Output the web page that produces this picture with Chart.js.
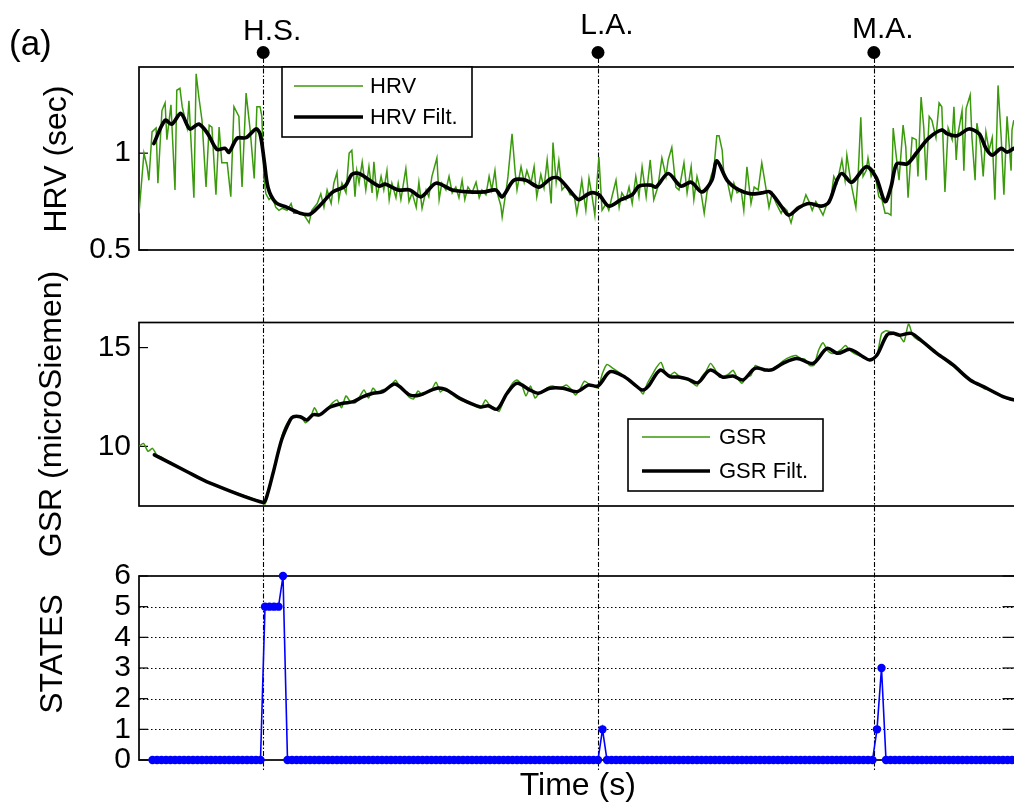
<!DOCTYPE html>
<html><head><meta charset="utf-8">
<script src="https://cdn.jsdelivr.net/npm/chart.js@4.4.1/dist/chart.umd.min.js"></script>
<style>
html,body{margin:0;padding:0;width:1014px;height:803px;overflow:hidden;background:#fff;}
canvas{position:absolute;left:0;}
</style></head><body>
<canvas id="c1" width="1030" height="286" style="top:0px"></canvas>
<canvas id="c3" width="1030" height="262" style="top:541px"></canvas>
<canvas id="c2" width="1030" height="310" style="top:256px"></canvas>
<script>
// ---------------- DATA ----------------
const markerTimes = [27.6, 102, 163.3];
const markerLabels = ['H.S.', 'L.A.', 'M.A.'];

const hrvTicks = [0.5, 1];
const gsrTicks = [10, 15];
const stateTicks = [0, 1, 2, 3, 4, 5, 6];
const stateGrid = [1, 2, 3, 4, 5];

// HRV raw (time s, value s)
const hrvTime = [
 0,1.1,1.8,2.2,2.9,3.8,4.2,5.1,5.8,6.2,7.1,8,8.4,9.1,9.6,10.7,11.1,12.2,12.7,13.3,14,14.9,15.6,16.2,17.1,17.8,18.4,19.6,20.4,21.1,22.2,22.9,23.8,24.7,25.6,26.2,26.9,27.3,27.8,28.2,28.9,29.6,30.4,31.1,31.8,32.9,33.8,34.4,35.6,36.7,37.8,38.4,39.6,40.4,41.1,41.8,42.7,43.3,44,44.4,45.1,46,46.7,47.3,48,48.4,
 48.9,49.6,50.4,51.1,51.8,52.2,52.9,53.8,54.4,55.1,55.6,56.2,57.1,57.6,58.2,59.3,60,60.7,61.6,62.2,62.9,63.8,64.4,65.1,66.2,66.7,67.3,68.2,68.9,69.6,70.4,71.1,71.8,72.4,73.1,74,74.9,75.6,76.2,77.1,77.8,78.4,79.1,79.6,80.4,80.7,81.6,82,82.9,83.6,84,84.9,85.6,86.2,87.1,87.8,88.4,89.3,90,90.7,91.6,92,92.7,93.3,94,94.9,95.8,96.7,97.3,
 97.8,98.4,99.3,100,100.7,101.3,101.8,102.2,102.9,103.8,104.4,105.1,106,106.7,107.3,108.2,108.9,109.6,110.4,111.1,111.8,112.7,113.6,114.4,115.3,116.2,117.1,117.6,118.4,119.3,120,121.1,121.8,122.7,123.3,124,124.9,125.6,126.2,127.1,127.8,128.4,128.9,129.6,130,130.7,131.6,132.2,132.9,133.8,134.4,135.1,136,136.7,137.6,138.4,139.1,140,140.7,141.6,142.7,143.3,144,144.9,145.6,146.2,
 146.7,147.3,148.2,148.9,149.6,150.4,151.1,152,152.9,153.8,154.4,155.1,156.2,156.9,157.3,158,158.4,159.3,159.8,160.4,160.9,161.6,162,162.7,163.3,163.8,164.4,165.1,165.8,166.4,167.1,167.6,168.2,168.9,169.8,170.4,170.9,171.8,172.7,173.1,173.8,174.4,174.9,175.6,176.2,177.1,177.8,178.4,179.1,179.8,180.7,181.1,181.6,182,182.9,183.3,183.8,184.7,185.1,185.8,186.2,187.1,187.6,188.2,188.9,189.6,190.2,190.9,191.6,192.2,192.9,193.8,194,194.4
];
const hrvRaw = [
 0.69,1.0,0.93,0.86,1.11,1.13,0.845,1.22,1.26,1.07,1.25,0.81,1.325,1.335,1.24,1.13,1.27,0.77,1.41,1.29,1.17,0.825,1.145,1.135,0.785,1.135,0.95,0.95,0.775,1.24,1.19,0.825,1.31,1.12,0.87,1.24,1.24,1.19,0.86,0.79,0.76,0.775,0.72,0.705,0.715,0.705,0.74,0.69,0.69,0.68,0.64,0.705,0.74,0.79,0.72,0.81,0.74,0.845,0.90,0.76,0.845,0.795,1.0,1.015,0.775,0.91,
 0.845,0.955,0.81,0.93,0.795,0.955,0.775,0.88,0.81,0.91,0.76,0.845,0.77,0.845,0.76,0.92,0.75,0.795,0.72,0.85,0.715,0.81,0.775,0.88,0.975,0.76,0.845,0.81,0.88,0.795,0.825,0.77,0.86,0.76,0.825,0.795,0.85,0.77,0.81,0.785,0.88,0.81,0.91,0.795,0.73,0.67,0.81,0.88,1.10,0.90,0.81,0.93,0.85,0.91,0.845,0.93,0.775,0.89,0.82,0.965,0.74,1.055,0.85,0.96,0.81,0.835,0.785,0.785,0.69,
 0.76,0.86,0.705,0.87,0.775,0.68,0.86,0.98,0.705,0.74,0.705,0.775,0.86,0.72,0.795,0.76,0.825,0.74,0.88,0.775,0.93,0.775,0.965,0.76,0.825,0.975,0.88,0.965,1.03,0.825,0.81,0.95,0.795,0.93,0.76,0.88,0.795,0.69,0.795,0.88,0.93,1.09,1.09,1.015,0.88,0.86,0.76,0.845,0.795,0.81,0.705,0.93,0.74,0.825,0.81,0.95,0.85,0.72,0.795,0.74,0.69,0.72,0.705,0.64,0.705,0.72,
 0.717,0.72,0.785,0.75,0.705,0.75,0.72,0.68,0.74,0.775,0.88,0.845,0.965,0.86,0.99,0.88,0.825,0.72,0.88,1.185,0.88,0.91,0.975,0.88,0.91,0.86,0.775,0.76,0.69,0.69,0.68,1.13,1.0,0.86,1.145,1.03,0.77,1.08,1.07,0.88,1.29,1.13,0.86,1.19,1.17,1.08,1.26,1.24,0.80,1.13,1.07,1.24,0.965,1.10,1.22,0.91,1.23,1.30,1.08,0.86,1.155,1.03,0.88,1.11,1.015,1.08,0.76,1.35,1.08,0.785,1.19,0.91,1.12,1.17
];

// HRV filtered
const hrvFiltTime = [3.3,5.8,7.3,9.3,11.3,13.3,15.3,17.3,19.1,20,21.8,23.8,26,26.9,27.8,28.7,30.4,32.9,35.8,38,40.2,43.1,45.8,47.3,48.9,53.3,54.7,57.6,60.2,62.7,66,69.6,73.3,76.7,79.3,80.7,83.3,86,88.9,91.6,93.3,97.1,97.8,100.4,102.2,104.4,107.1,109.6,111.1,113.8,114.9,117.6,120.4,122.7,125.1,127.3,128.4,130.7,133.3,136,138.4,140.2,142.9,144.4,146.7,148.9,151.6,153.3,155.1,156.2,158.4,161.6,163.8,165.8,167.1,168.4,170.7,172.9,175.6,178.4,179.6,181.8,184.4,186.7,188.2,189.6,191.6,192.9,194.4];
const hrvFilt = [1.05,1.17,1.15,1.205,1.125,1.15,1.10,1.02,1.025,1.005,1.077,1.08,1.125,1.10,0.965,0.82,0.745,0.72,0.69,0.685,0.73,0.80,0.83,0.89,0.895,0.83,0.84,0.81,0.81,0.775,0.845,0.81,0.80,0.80,0.81,0.775,0.86,0.86,0.825,0.87,0.87,0.77,0.76,0.795,0.785,0.727,0.76,0.785,0.83,0.835,0.825,0.895,0.83,0.85,0.80,0.86,0.96,0.86,0.81,0.79,0.795,0.80,0.72,0.68,0.72,0.74,0.727,0.747,0.86,0.895,0.85,0.93,0.875,0.75,0.825,0.945,0.945,1.005,1.08,1.12,1.10,1.09,1.125,1.10,1.025,0.99,1.025,1.005,1.025];

// GSR raw, one sample per second from t = 0
const gsrRaw = [
 10.0,10.15,9.75,9.9,9.55,9.45,9.3,9.18,9.05,8.93,
 8.8,8.68,8.57,8.45,8.33,8.22,8.12,8.03,7.94,7.86,
 7.78,7.7,7.62,7.54,7.46,7.38,7.3,7.2,7.08,7.9,
 8.9,9.8,10.7,11.2,11.45,11.55,11.5,11.2,11.4,11.95,
 11.55,11.75,11.95,12.2,12.35,11.95,12.55,12.25,12.2,12.5,
 12.85,12.45,12.95,12.7,12.85,12.9,13.1,13.35,13.0,12.8,
 12.5,12.4,12.8,12.6,12.75,12.85,13.25,12.75,12.95,12.8,
 12.55,12.4,12.3,12.2,12.15,12.0,11.95,12.35,12.05,11.95,
 11.76,12.3,12.8,13.2,13.36,13.15,12.55,13.05,12.45,12.7,
 12.85,13.0,13.05,12.95,13.0,13.1,12.9,12.6,12.9,13.3,
 13.15,13.05,12.95,13.7,14.15,14.0,13.85,13.7,13.5,13.3,
 13.1,12.95,12.65,13.2,13.6,14.0,14.25,13.7,13.6,13.75,
 13.55,13.45,13.35,13.2,13.05,13.5,13.8,14.2,13.9,13.5,
 13.55,13.65,13.85,13.45,13.2,13.5,13.6,14.1,13.95,13.8,
 13.85,13.95,14.1,14.3,14.45,14.55,14.6,14.45,14.4,14.1,
 14.1,14.85,15.25,14.85,14.7,14.75,14.9,15.1,14.85,14.7,
 14.6,14.5,14.4,14.45,14.6,15.7,15.85,15.8,15.75,15.6,
 15.3,16.2,15.6,15.4,15.3,15.1,14.9,14.75,14.55,14.4,
 14.2,14.05,13.85,13.65,13.45,13.3,13.15,13.05,12.9,12.85,
 12.7,12.6,12.5,12.4,12.35
];

// GSR filtered
const gsrFiltTime = [3.4,10.6,15,27.6,28.4,29.8,31.7,33.6,34.3,35.8,37.3,38.7,40.2,42.4,45.3,47.6,49.8,52,54.2,56.9,60.2,62.4,66.2,68.4,71.3,75.8,77.6,79.6,81.8,84,86.9,88.7,91.3,94.2,97.3,99.8,102,104.7,107.6,109.8,111.8,113.1,115.8,118,120.2,122,124.2,126.9,129.8,132,134.2,136.9,139.6,140.9,143.1,146.2,149.8,152.9,155.3,158,160.9,162.4,164,166.2,167.6,169.1,171.6,174.2,177.3,180.9,184.7,188.4,192,194.4];
const gsrFilt = [9.57,8.73,8.22,7.16,7.47,8.65,10.33,11.34,11.5,11.5,11.34,11.6,11.6,11.98,12.18,12.26,12.52,12.69,12.77,13.16,12.6,12.6,12.94,12.85,12.43,12.0,12.05,11.88,12.69,13.19,12.85,12.69,12.94,12.94,12.77,13.1,13.06,13.78,13.56,13.19,12.85,13.02,13.86,13.53,13.5,13.4,13.22,13.86,13.5,13.56,13.36,13.95,13.86,13.9,14.2,14.45,14.2,14.96,14.71,14.91,14.54,14.37,14.62,15.63,15.72,15.63,15.72,15.29,14.71,14.12,13.36,12.94,12.52,12.35];

// STATES, one sample per second starting at t = 3
const stateStart = 3;
const states = [
 0,0,0,0,0,0,0,0,0,0,0,0,0,0,0,0,0,0,0,0,
 0,0,0,0,0,5,5,5,5,6,0,0,0,0,0,0,0,0,0,0,
 0,0,0,0,0,0,0,0,0,0,0,0,0,0,0,0,0,0,0,0,
 0,0,0,0,0,0,0,0,0,0,0,0,0,0,0,0,0,0,0,0,
 0,0,0,0,0,0,0,0,0,0,0,0,0,0,0,0,0,0,0,0,
 1,0,0,0,0,0,0,0,0,0,0,0,0,0,0,0,0,0,0,0,
 0,0,0,0,0,0,0,0,0,0,0,0,0,0,0,0,0,0,0,0,
 0,0,0,0,0,0,0,0,0,0,0,0,0,0,0,0,0,0,0,0,
 0,1,3,0,0,0,0,0,0,0,0,0,0,0,0,0,0,0,0,0,
 0,0,0,0,0,0,0,0,0,0,0,0
];

// ---------------- CHARTS ----------------
const FONT = '"Liberation Sans", Arial, Helvetica, sans-serif';
const GREEN = '#3a9a0c';
const BLUE = '#0000ff';
Chart.defaults.font.family = FONT;
Chart.defaults.color = '#000';

const pts = (xs, ys) => ys.map((v, i) => ({x: xs[i], y: v}));
const seq = (start, ys) => ys.map((v, i) => ({x: start + i, y: v}));

const decor = {
  id: 'decor',
  beforeDatasetsDraw(chart, args, o) {
    const {ctx, chartArea: a, scales} = chart;
    const ys = scales.y;
    ctx.save();
    ctx.strokeStyle = '#000';
    if (o.grid) {
      ctx.lineWidth = 1;
      ctx.setLineDash([1.5, 2.5]);
      o.grid.forEach(v => {
        const y = Math.round(ys.getPixelForValue(v)) + 0.5;
        ctx.beginPath(); ctx.moveTo(a.left, y); ctx.lineTo(a.right, y); ctx.stroke();
      });
      ctx.setLineDash([]);
    }
    ctx.lineWidth = 1.2;
    (o.ticks || []).forEach(v => {
      const y = ys.getPixelForValue(v);
      ctx.beginPath(); ctx.moveTo(a.left, y); ctx.lineTo(a.left + 9, y); ctx.stroke();
      if (o.rightTicks) { ctx.beginPath(); ctx.moveTo(a.right, y); ctx.lineTo(a.right - 14, y); ctx.stroke(); }
    });
    ctx.lineWidth = 1.7;
    ctx.strokeRect(a.left, a.top, a.right - a.left, a.bottom - a.top);
    ctx.lineWidth = 1.1;
    ctx.setLineDash([5, 2, 1.5, 2]);
    markerTimes.forEach(t => {
      const x = Math.round(scales.x.getPixelForValue(t)) + 0.5;
      ctx.beginPath(); ctx.moveTo(x, o.lineTop); ctx.lineTo(x, o.lineBottom); ctx.stroke();
    });
    ctx.restore();
  },
  afterDatasetsDraw(chart, args, o) {
    const {ctx, scales} = chart;
    ctx.save();
    if (o.legend) {
      const L = o.legend;
      ctx.fillStyle = '#fff';
      ctx.fillRect(L.x, L.y, L.w, L.h);
      ctx.strokeStyle = '#000'; ctx.lineWidth = 1.6;
      ctx.strokeRect(L.x, L.y, L.w, L.h);
      ctx.font = '22px ' + FONT;
      ctx.textBaseline = 'middle'; ctx.textAlign = 'left';
      chart.data.datasets.forEach((d, i) => {
        const y = L.y + L.rows[i];
        ctx.strokeStyle = d.borderColor; ctx.lineWidth = d.borderWidth;
        ctx.beginPath(); ctx.moveTo(L.x + L.line[0], y); ctx.lineTo(L.x + L.line[1], y); ctx.stroke();
        ctx.fillStyle = '#000';
        ctx.fillText(d.label, L.x + L.text, y + 1);
      });
    }
    if (o.markers) {
      ctx.fillStyle = '#000';
      ctx.font = '30px ' + FONT;
      ctx.textAlign = 'center'; ctx.textBaseline = 'alphabetic';
      markerTimes.forEach((t, i) => {
        const x = scales.x.getPixelForValue(t);
        ctx.beginPath(); ctx.arc(x, o.markers.dotY, 6.5, 0, Math.PI * 2); ctx.fill();
        ctx.fillText(markerLabels[i], x + 9, o.markers.labelY[i]);
      });
      ctx.textAlign = 'left';
      ctx.font = '35px ' + FONT;
      ctx.fillText('(a)', 9, 55);
    }
    if (o.yTitle) {
      ctx.fillStyle = '#000';
      ctx.font = '32px ' + FONT;
      ctx.translate(o.yTitle.x, o.yTitle.y);
      ctx.rotate(-Math.PI / 2);
      ctx.textAlign = 'center'; ctx.textBaseline = 'alphabetic';
      ctx.fillText(o.yTitle.text, 0, 0);
    }
    ctx.restore();
  }
};

function xScale(show) {
  return {
    type: 'linear', min: 0, max: 195, display: show,
    grid: {display: false, drawTicks: false}, border: {display: false},
    ticks: {display: false},
    title: {display: show, text: 'Time (s)', font: {family: FONT, size: 32}, color: '#000', padding: {top: 0, bottom: -2}},
    afterFit: s => { if (show) s.height = 43; }
  };
}
function yScale(min, max, tickVals) {
  return {
    type: 'linear', min, max,
    grid: {display: false, drawTicks: false}, border: {display: false},
    afterBuildTicks: s => { s.ticks = tickVals.map(v => ({value: v})); },
    ticks: {font: {family: FONT, size: 30}, color: '#000', padding: 8, autoSkip: false, callback: v => String(v)},
    afterFit: s => { s.width = 139; }
  };
}
function baseOptions(padding, xs, ys, decorOpts) {
  return {
    responsive: false, animation: false, devicePixelRatio: 1, events: [],
    layout: {padding, autoPadding: false},
    scales: {x: xs, y: ys},
    plugins: {legend: {display: false}, tooltip: {enabled: false}, decor: decorOpts}
  };
}

new Chart(document.getElementById('c1'), {
  type: 'line',
  data: {datasets: [
    {label: 'HRV', data: pts(hrvTime, hrvRaw), borderColor: GREEN, borderWidth: 1.5, pointRadius: 0, tension: 0, order: 1},
    {label: 'HRV Filt.', data: pts(hrvFiltTime, hrvFilt), borderColor: '#000', borderWidth: 3.7, pointRadius: 0, tension: 0.3, order: 0, borderJoinStyle: 'round', borderCapStyle: 'round'}
  ]},
  options: baseOptions({top: 67, bottom: 36, left: 0, right: 13.5}, xScale(false), yScale(0.5, 1.445, hrvTicks), {
    ticks: hrvTicks, lineTop: 58, lineBottom: 286,
    legend: {x: 282, y: 67, w: 190, h: 70, rows: [19, 50], line: [12, 81], text: 88},
    markers: {dotY: 52.5, labelY: [40, 34, 38]},
    yTitle: {text: 'HRV (sec)', x: 66, y: 159}
  }),
  plugins: [decor]
});

new Chart(document.getElementById('c2'), {
  type: 'line',
  data: {datasets: [
    {label: 'GSR', data: seq(0, gsrRaw), borderColor: GREEN, borderWidth: 1.5, pointRadius: 0, tension: 0.2, order: 1},
    {label: 'GSR Filt.', data: pts(gsrFiltTime, gsrFilt), borderColor: '#000', borderWidth: 3.5, pointRadius: 0, tension: 0.3, order: 0, borderJoinStyle: 'round', borderCapStyle: 'round'}
  ]},
  options: baseOptions({top: 66.5, bottom: 60, left: 0, right: 13.5}, xScale(false), yScale(6.98, 16.27, gsrTicks), {
    ticks: gsrTicks, lineTop: 30, lineBottom: 285,
    legend: {x: 628, y: 163, w: 195, h: 72, rows: [18, 52], line: [14, 82], text: 91},
    yTitle: {text: 'GSR (microSiemen)', x: 61, y: 158}
  }),
  plugins: [decor]
});

new Chart(document.getElementById('c3'), {
  type: 'line',
  data: {datasets: [
    {label: 'STATES', data: seq(stateStart, states), borderColor: BLUE, backgroundColor: BLUE, borderWidth: 1.6, pointRadius: 4.2, pointBorderWidth: 0, pointBackgroundColor: BLUE, tension: 0, clip: false}
  ]},
  options: baseOptions({top: 35, bottom: 0, left: 0, right: 13.5}, xScale(true), yScale(0, 6, stateTicks), {
    ticks: stateTicks, grid: stateGrid, lineTop: 0, lineBottom: 229, rightTicks: true,
    yTitle: {text: 'STATES', x: 62, y: 113}
  }),
  plugins: [decor]
});
</script>
</body></html>
